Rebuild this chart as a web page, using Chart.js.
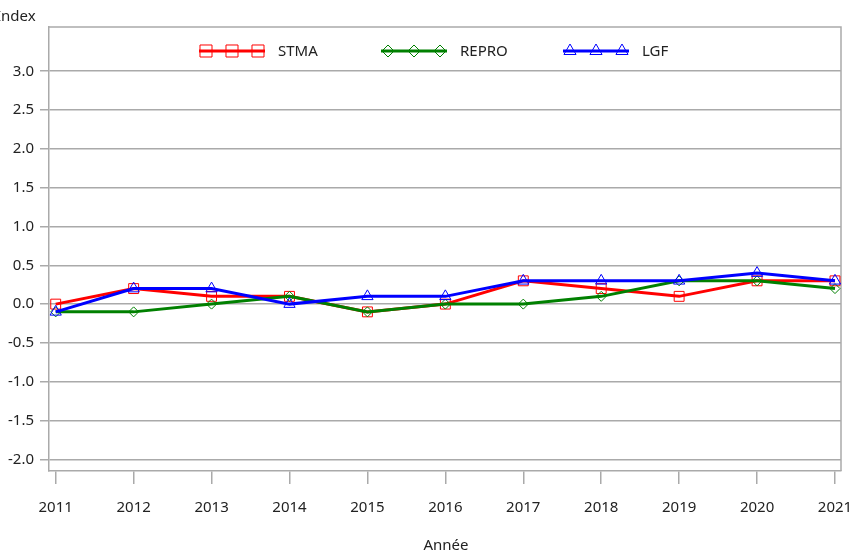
<!DOCTYPE html>
<html>
<head>
<meta charset="utf-8">
<script src="https://cdn.jsdelivr.net/npm/chart.js@4"></script>
<style>
  html, body { margin: 0; padding: 0; background: #fff; }
  #wrap { width: 852px; height: 556px; }
</style>
</head>
<body>
<div id="wrap"><canvas id="chart" width="852" height="556"></canvas></div>
<script>
const years = [2011, 2012, 2013, 2014, 2015, 2016, 2017, 2018, 2019, 2020, 2021];
const stma  = [0.0, 0.2, 0.1, 0.1, -0.1, 0.0, 0.3, 0.2, 0.1, 0.3, 0.3];
const repro = [-0.1, -0.1, 0.0, 0.1, -0.1, 0.0, 0.0, 0.1, 0.3, 0.3, 0.2];
const lgf   = [-0.1, 0.2, 0.2, 0.0, 0.1, 0.1, 0.3, 0.3, 0.3, 0.4, 0.3];
const yTicks = [-2.0, -1.5, -1.0, -0.5, 0.0, 0.5, 1.0, 1.5, 2.0, 2.5, 3.0];

const FONT = '"Noto Sans", "DejaVu Sans", sans-serif';
const TEXT = '#222';
const GRID = '#aaaaaa';

const toPts = arr => years.map((y, i) => ({ x: y, y: arr[i] }));

const series = [
  { label: 'STMA', data: stma, color: '#ff0000', style: 'rect', radius: 7, legendRadius: 8.5, order: 3 },
  { label: 'REPRO', data: repro, color: '#008000', style: 'rectRot', radius: 5, legendRadius: 6, order: 2 },
  { label: 'LGF', data: lgf, color: '#0000ff', style: 'triangle', radius: 6.5, legendRadius: 7, order: 1 }
];

// frame, custom legend and axis titles
const extras = {
  id: 'extras',
  beforeDatasetsDraw(chart) {
    const { ctx, chartArea: a } = chart;
    ctx.save();
    ctx.strokeStyle = GRID;
    ctx.lineWidth = 1.5;
    ctx.beginPath();
    ctx.moveTo(a.left, a.top);
    ctx.lineTo(a.right, a.top);
    ctx.lineTo(a.right, a.bottom);
    ctx.stroke();
    ctx.restore();
  },
  afterDraw(chart) {
    const { ctx } = chart;
    ctx.save();
    ctx.font = '15px ' + FONT;
    ctx.fillStyle = TEXT;
    ctx.textBaseline = 'middle';
    ctx.textAlign = 'left';
    ctx.fillText('Index', -4, 17);
    ctx.textAlign = 'center';
    ctx.fillText('Année', 446, 546);

    const starts = [206, 388, 570];
    const ly = 51;
    series.forEach((s, i) => {
      const x0 = starts[i];
      ctx.strokeStyle = s.color;
      ctx.lineWidth = 3;
      ctx.beginPath();
      ctx.moveTo(x0 - 7, ly);
      ctx.lineTo(x0 + 59, ly);
      ctx.stroke();
      for (let k = 0; k < 3; k++) {
        ctx.fillStyle = 'rgba(0,0,0,0)';
        ctx.strokeStyle = s.color;
        ctx.lineWidth = 1;
        Chart.helpers.drawPoint(ctx, {
          pointStyle: s.style, radius: s.legendRadius, borderWidth: 1
        }, x0 + k * 26, ly);
      }
      ctx.fillStyle = TEXT;
      ctx.textAlign = 'left';
      ctx.fillText(s.label, x0 + 72, ly + 1);
    });
    ctx.restore();
  }
};

new Chart(document.getElementById('chart'), {
  type: 'line',
  data: {
    datasets: series.map(s => ({
      label: s.label,
      data: toPts(s.data),
      borderColor: s.color,
      backgroundColor: 'rgba(0,0,0,0)',
      borderWidth: 3,
      pointStyle: s.style,
      pointRadius: s.radius,
      pointBorderWidth: 1,
      pointBorderColor: s.color,
      pointBackgroundColor: 'rgba(0,0,0,0)',
      tension: 0,
      order: s.order
    }))
  },
  options: {
    responsive: false,
    animation: false,
    layout: { padding: { top: 27, right: 11, left: 0, bottom: 0 } },
    plugins: {
      legend: { display: false },
      tooltip: { enabled: false }
    },
    scales: {
      x: {
        type: 'linear',
        min: 2010.914,
        max: 2021.077,
        afterBuildTicks: sc => { sc.ticks = years.map(v => ({ value: v })); },
        afterFit: sc => { sc.height = 85; sc.paddingLeft = 0; sc.paddingRight = 0; },
        grid: { drawOnChartArea: false, drawTicks: true, tickLength: 13, color: GRID, lineWidth: 1.5 },
        border: { color: GRID, width: 1.5 },
        ticks: {
          autoSkip: false, maxRotation: 0, padding: 15, color: TEXT,
          font: { family: FONT, size: 15 },
          callback: v => String(v)
        }
      },
      y: {
        min: -2.15,
        max: 3.57,
        afterBuildTicks: sc => { sc.ticks = yTicks.map(v => ({ value: v })); },
        afterFit: sc => { sc.width = 49; sc.paddingTop = 0; sc.paddingBottom = 0; },
        grid: { color: GRID, lineWidth: 1.5, tickLength: 9 },
        border: { color: GRID, width: 1.5 },
        ticks: {
          padding: 6, color: TEXT,
          font: { family: FONT, size: 15 },
          callback: v => v.toFixed(1)
        }
      }
    }
  },
  plugins: [extras]
});
</script>
</body>
</html>
